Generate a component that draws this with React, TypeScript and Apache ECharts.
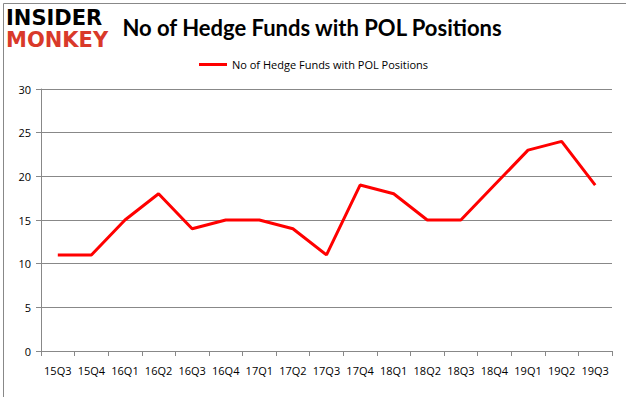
import React, { useEffect, useRef } from "react";
import * as echarts from "echarts";

const categories = ["15Q3","15Q4","16Q1","16Q2","16Q3","16Q4","17Q1","17Q2","17Q3","17Q4","18Q1","18Q2","18Q3","18Q4","19Q1","19Q2","19Q3"];
const funds = [11, 11, 15, 18, 14, 15, 15, 14, 11, 19, 18, 15, 15, 19, 23, 24, 19];
const seriesName = "No of Hedge Funds with POL Positions";
const titleText = "No of Hedge Funds with POL Positions";

export default function App() {
  const ref = useRef<HTMLDivElement>(null);
  useEffect(() => {
    document.body.style.margin = "0";
    const chart = echarts.init(ref.current!, null, { renderer: "svg" });
    chart.setOption({
      animation: false,
      backgroundColor: "#fff",
      title: {
        text: titleText,
        left: 307,
        top: 11,
        textAlign: "center",
        textStyle: { fontFamily: "Lato", fontWeight: "bold", fontSize: 22, color: "#000" },
      },
      legend: {
        data: [seriesName],
        top: 54,
        left: 194,
        itemWidth: 28,
        itemHeight: 3,
        itemGap: 4,
        icon: "rect",
        textStyle: { fontFamily: "Open Sans", fontSize: 11, color: "#000" },
      },
      graphic: [
        { type: "rect", left: 1, top: 1, shape: { width: 623, height: 394 }, style: { fill: "none", stroke: "#888", lineWidth: 1 } },
        { type: "text", left: 6, top: 7, style: { text: "INSIDER", fontFamily: "DejaVu Sans", fontWeight: "bold", fontSize: 21, fill: "#000" } },
        { type: "text", left: 6, top: 29, style: { text: "MONKEY", fontFamily: "DejaVu Sans", fontWeight: "bold", fontSize: 21, fill: "#d9392a" } },
      ],
      grid: { left: 41, right: 14, top: 89, bottom: 46, containLabel: false },
      xAxis: {
        type: "category",
        data: categories,
        boundaryGap: true,
        axisLine: { lineStyle: { color: "#888" } },
        axisTick: { show: true, alignWithLabel: false, length: 5, lineStyle: { color: "#888" } },
        axisLabel: { fontFamily: "Open Sans", fontSize: 11, color: "#000", margin: 14, interval: 0 },
        splitLine: { show: false },
      },
      yAxis: {
        type: "value",
        min: 0,
        max: 30,
        interval: 5,
        axisLine: { show: true, lineStyle: { color: "#888" } },
        axisTick: { show: true, length: 5, lineStyle: { color: "#888" } },
        axisLabel: { fontFamily: "Open Sans", fontSize: 11, color: "#000", margin: 10 },
        splitLine: { show: true, lineStyle: { color: "#888", width: 1 } },
      },
      series: [
        {
          name: seriesName,
          type: "line",
          data: funds,
          symbol: "none",
          lineStyle: { color: "#ff0000", width: 3 },
          itemStyle: { color: "#ff0000" },
        },
      ],
    });
    return () => chart.dispose();
  }, []);
  return <div ref={ref} style={{ width: 626, height: 397 }} />;
}
